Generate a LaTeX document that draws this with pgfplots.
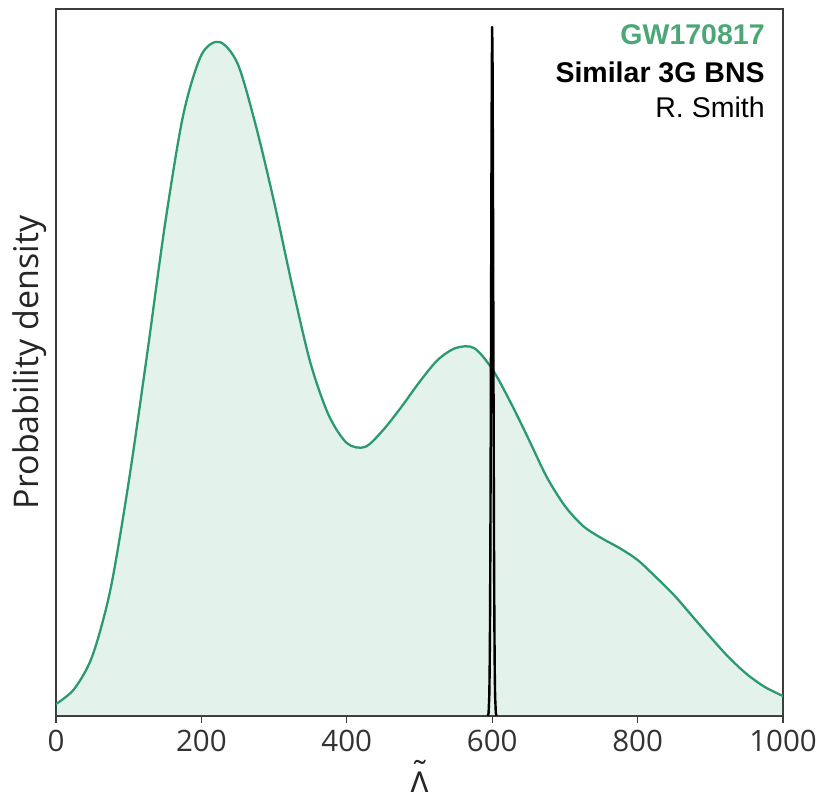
\documentclass[border=0pt]{standalone}
\usepackage{fontspec}
\setmainfont{Open Sans}
\newfontfamily\arial{Liberation Sans}
\usepackage{pgfplots}
\pgfplotsset{compat=1.18}
\definecolor{gcol}{RGB}{44,154,112}
\definecolor{gtext}{RGB}{76,167,118}
\definecolor{axgray}{RGB}{60,60,60}

\pgfplotstableread{
x y
0 12
25 27
50 60
75 127
100 234
125 360
150 492
175 601
200 661
225 674
250 652
275 590
300 514
325 430
350 353
375 301
400 273
425 269
450 286
475 309
500 334
525 356
550 368
575 368
600 347
625 314
650 277
675 239
700 210
725 190
750 178
775 168
800 156
825 139
850 121
875 100
900 79
925 59
950 42
975 29
1000 20
}\gwdata

\pgfplotstableread{
x y
594 0
595 2.7
596 20
596.5 45
597 93
597.5 172
598 283
598.5 418
599 552
599.5 652
600 689
600.5 652
601 552
601.5 418
602 283
602.5 172
603 93
603.5 45
604 20
605 2.7
606 0
}\bnsdata

\newcommand{\lamtilde}{\setbox0\hbox{Λ}\rlap{\hbox to\wd0{\hss\raisebox{0.34em}{˜}\hss}}Λ}

\begin{document}
\begin{tikzpicture}[x=1pt,y=1pt]
\begin{axis}[
  at={(0,0)}, anchor=south west,
  scale only axis, width=727pt, height=707pt,
  xmin=0, xmax=1000, ymin=0, ymax=707,
  xtick={0,200,400,600,800,1000}, ytick=\empty,
  xtick pos=bottom, tick align=outside, major tick length=7pt,
  axis line style={axgray, line width=1.3pt},
  every tick/.style={axgray, line width=1.3pt},
  /pgf/number format/assume math mode=true,
  /pgf/number format/1000 sep={},
  xticklabel style={font=\fontsize{29.5}{31}\selectfont, text=black!80, inner sep=0pt, yshift=-7pt},
  xlabel={\lamtilde},
  ylabel={Probability density},
  xlabel style={at={(axis description cs:0.5,-0.1125)}, anchor=base, inner sep=0pt, font=\fontsize{33}{35}\selectfont, text=black!85},
  ylabel style={at={(axis description cs:-0.0124,0.5)}, anchor=south, inner sep=0pt, font=\fontsize{34}{36}\selectfont, text=black!85},
]
\addplot[draw=none, fill=gcol, fill opacity=0.13, smooth] table {\gwdata} \closedcycle;
\addplot[gcol, line width=2.3pt, smooth] table {\gwdata};
\addplot[black, line width=2.4pt, line join=round] table {\bnsdata};
\node[anchor=base east, inner sep=0pt, text=gtext, font=\arial\bfseries\fontsize{28.5}{30}\selectfont] at (axis cs:975,671) {GW170817};
\node[anchor=base east, inner sep=0pt, text=black, font=\arial\bfseries\fontsize{28.5}{30}\selectfont] at (axis cs:975,633) {Similar 3G BNS};
\node[anchor=base east, inner sep=0pt, text=black, font=\arial\fontsize{28.5}{30}\selectfont] at (axis cs:975,598) {R. Smith};
\end{axis}
\pgfresetboundingbox
\path[use as bounding box] (-56,-76) rectangle (767,716);
\end{tikzpicture}
\end{document}
